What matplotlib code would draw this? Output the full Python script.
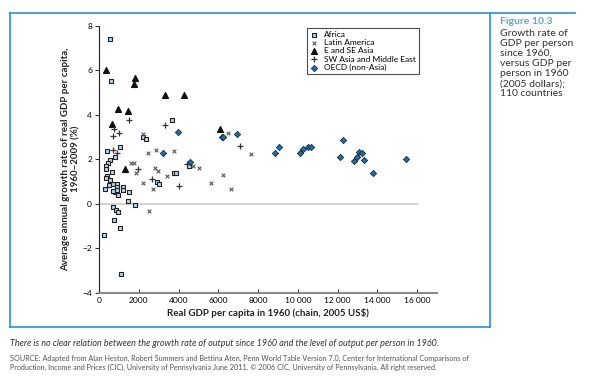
import matplotlib.pyplot as plt
from matplotlib.lines import Line2D

plt.rcParams['font.family'] = ['Lato', 'DejaVu Sans']

# GDP per capita 1960 (2005 US$) and average growth 1960-2009 (%)
africa_x = [553, 588, 385, 1057, 3656, 2197, 2365, 553, 470, 352, 352, 805, 637, 385, 352,
            553, 520, 720, 888, 921, 805, 973, 720, 888, 1224, 1224, 285, 1510, 1443, 1811,
            722, 855, 973, 755, 1057, 252, 1090, 3750, 3850, 2903, 3037, 4545]
africa_y = [7.42, 5.52, 2.37, 2.55, 3.78, 2.98, 2.9, 1.98, 1.83, 1.7, 1.55, 2.1, 1.43, 1.24, 1.14,
            1.07, 0.83, 0.9, 0.9, 0.75, 0.53, 0.38, 0.55, 0.6, 0.75, 0.6, 0.68, 0.53, 0.11, -0.07,
            -0.14, -0.26, -0.37, -0.71, -1.07, -1.39, -3.18, 1.36, 1.36, 0.98, 0.9, 1.69]

latam_x = [2230, 2482, 2868, 3774, 1610, 1761, 1862, 2230, 2700, 2818, 2985, 3405, 2532,
           4746, 5048, 5635, 6256, 6641, 6474, 7648]
latam_y = [3.12, 2.26, 2.4, 2.36, 1.84, 1.83, 1.38, 0.93, 0.65, 1.61, 1.49, 1.24, -0.32,
           1.69, 1.61, 0.91, 1.31, 0.64, 3.18, 2.22]

easia_x = [352, 1811, 1761, 3321, 4293, 938, 1476, 671, 1308, 6088]
easia_y = [6.03, 5.63, 5.37, 4.88, 4.88, 4.28, 4.17, 3.6, 1.54, 3.38]

swasia_x = [1526, 755, 1023, 688, 722, 889, 1980, 2650, 3321, 4042, 7094, 4411]
swasia_y = [3.78, 3.35, 3.18, 3.03, 2.4, 2.28, 1.54, 1.09, 3.53, 0.8, 2.58, 1.78]

oecd_x = [3992, 3237, 4579, 6173, 6256, 6960, 8855, 9072, 10113, 10248, 10532, 10667,
          12293, 12126, 12830, 12964, 13098, 13215, 13333, 13801, 15446]
oecd_y = [3.23, 2.26, 1.88, 3.0, 3.0, 3.15, 2.3, 2.55, 2.26, 2.45, 2.55, 2.55,
          2.85, 2.08, 1.92, 2.08, 2.33, 2.26, 1.96, 1.4, 1.99]

xticks = [0, 2000, 4000, 6000, 8000, 10000, 12000, 14000, 16000]
xticklabels = ['0', '2000', '4000', '6000', '8000', '10 000', '12 000', '14 000', '16 000']
yticks = [-4, -2, 0, 2, 4, 6, 8]
yticklabels = ['\u22124', '\u22122', '0', '2', '4', '6', '8']

fig = plt.figure(figsize=(5.95, 3.88), dpi=100)
ax = fig.add_axes([0.1664, 0.2456, 0.568, 0.688])

ax.plot([0, 16000], [0, 0], color='#d4d4d4', lw=1.5, zorder=1)

ax.scatter(africa_x, africa_y, marker='s', s=8, facecolor='#b9d3ea', edgecolor='#222222',
           linewidth=0.8, label='Africa', zorder=3)
ax.scatter(latam_x, latam_y, marker='x', s=7, color='#555555', linewidth=0.8,
           label='Latin America', zorder=3)
ax.scatter(easia_x, easia_y, marker='^', s=17, color='#111111', label='E and SE Asia', zorder=3)
ax.scatter(swasia_x, swasia_y, marker='+', s=15, color='#333333', linewidth=0.9,
           label='SW Asia and Middle East', zorder=3)
ax.scatter(oecd_x, oecd_y, marker='D', s=10, facecolor='#1f6ea8', edgecolor='#1a2a3a',
           linewidth=0.6, label='OECD (non-Asia)', zorder=3)

ax.set_xlim(0, 17000)
ax.set_ylim(-4, 8)
ax.set_xticks(xticks)
ax.set_xticklabels(xticklabels)
ax.set_yticks(yticks)
ax.set_yticklabels(yticklabels)
ax.tick_params(axis='x', direction='in', length=3, labelsize=6, pad=3, color='#333333')
ax.tick_params(axis='y', direction='out', length=3, labelsize=6, pad=2, color='#333333')
for s in ['top', 'right']:
    ax.spines[s].set_visible(False)
ax.spines['left'].set_color('#222222')
ax.spines['bottom'].set_color('#888888')
ax.spines['bottom'].set_linewidth(1.5)
ax.spines['left'].set_bounds(-4, 8)

ax.set_xlabel('Real GDP per capita in 1960 (chain, 2005 US$)', fontsize=7, fontweight='bold',
              color='#222222', labelpad=3)
ax.set_ylabel('Average annual growth rate of real GDP per capita,\n1960\u20132009 (%)',
              fontsize=7, fontweight='bold', color='#222222', labelpad=1, linespacing=1.2)

leg = ax.legend(loc='upper left', bbox_to_anchor=(0.615, 0.99), fontsize=6, frameon=True,
                fancybox=False, borderpad=0.3, labelspacing=0.15, handletextpad=0.6,
                handlelength=1.2, borderaxespad=0)
leg.get_frame().set_edgecolor('#222222')
leg.get_frame().set_linewidth(0.8)

# frame around the figure
blue = '#2b8fd2'
W, H = 595.0, 388.0
def fx(p):
    return p / W
def fy(p):
    return 1 - p / H
fig.add_artist(Line2D([fx(10), fx(575)], [fy(13), fy(13)], color=blue, lw=1.2))
fig.add_artist(Line2D([fx(10), fx(10)], [fy(13), fy(327)], color=blue, lw=1.2))
fig.add_artist(Line2D([fx(10), fx(490)], [fy(327), fy(327)], color=blue, lw=1.2))
fig.add_artist(Line2D([fx(490), fx(490)], [fy(13), fy(327)], color=blue, lw=1.2))

fig.text(fx(500), fy(17), 'Figure 10.3', color='#5aa7dd', fontsize=7.5, fontweight='bold',
         va='top', ha='left')
fig.text(fx(500), fy(29), 'Growth rate of\nGDP per person\nsince 1960,\nversus GDP per\n'
         'person in 1960\n(2005 dollars);\n110 countries',
         color='#333333', fontsize=7.5, va='top', ha='left', linespacing=1.15)

fig.text(fx(10), fy(343), 'There is no clear relation between the growth rate of output since '
         '1960 and the level of output per person in 1960.',
         fontsize=6.5, style='italic', color='#333333', va='center', ha='left')
fig.text(fx(10), fy(363), 'SOURCE: Adapted from Alan Heston, Robert Summers and Bettina Aten, '
         'Penn World Table Version 7.0, Center for International Comparisons of\n'
         'Production, Income and Prices (CIC), University of Pennsylvania June 2011. '
         '\u00a9 2006 CIC, University of Pennsylvania. All right reserved.',
         fontsize=5.2, color='#555555', va='center', ha='left', linespacing=1.35)

fig.savefig('out.png', dpi=100)
